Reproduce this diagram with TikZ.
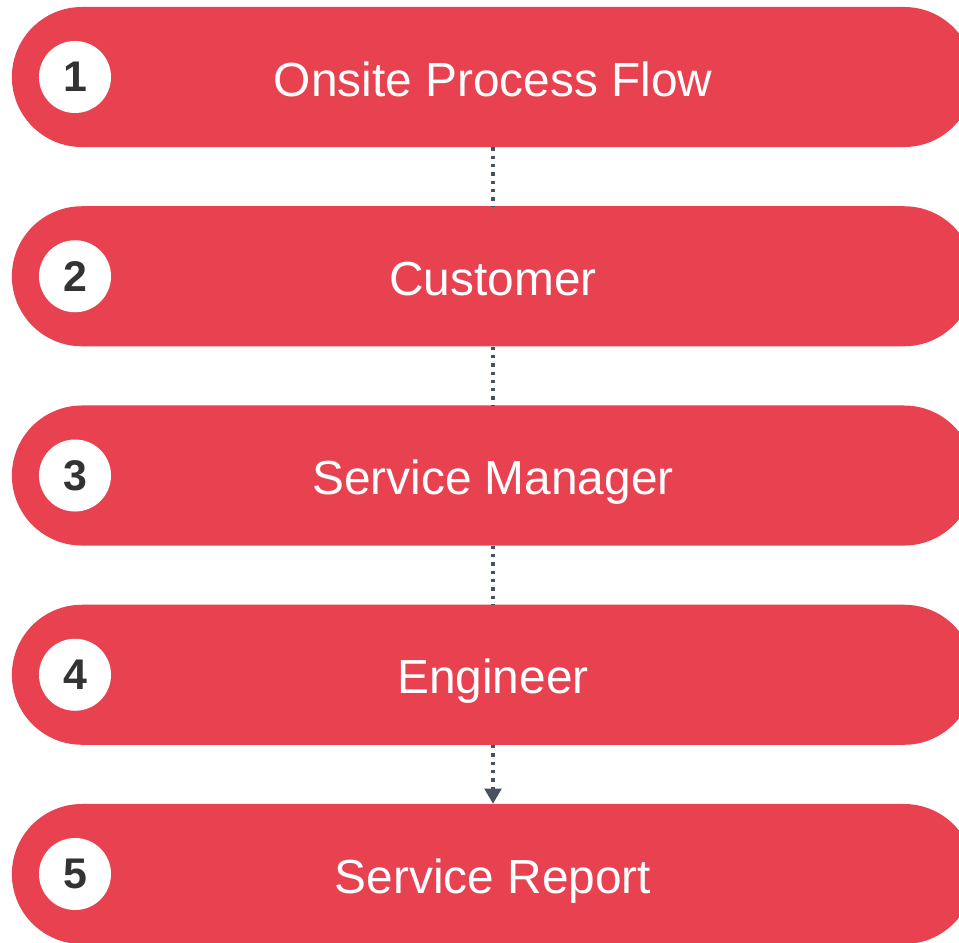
\documentclass[tikz,border=0pt]{standalone}
\usepackage{fontspec}
\setmainfont{Liberation Sans}
\usepackage{xcolor}
\usepackage{tikz}
\usetikzlibrary{arrows.meta,positioning,calc}
\definecolor{pillred}{HTML}{E84250}
\definecolor{linegray}{HTML}{48525E}
\definecolor{numgray}{HTML}{333333}
\tikzstyle{stage} = [rectangle, fill=pillred, rounded corners=1.75cm, minimum width=24.05cm, minimum height=3.5cm, text height=1.15cm, text depth=0.2cm, text=white, font=\fontsize{34}{40}\selectfont]

\begin{document}
\begin{tikzpicture}[x=0.025cm, y=-0.025cm]
    \tikzstyle{badge} = [circle, fill=white, minimum size=1.8cm, inner sep=0pt, text=numgray, font=\fontsize{30.5}{36}\selectfont\bfseries]
    \tikzstyle{flow} = [draw=linegray, line width=0.083cm, dash pattern=on 0.083cm off 0.125cm]
    \clip (0,0) rectangle (959,942);
    \node[stage] (s1) at (493,77) {Onsite Process Flow};
    \node[stage] (s2) at (493,276.25) {Customer};
    \node[stage] (s3) at (493,475.5) {Service Manager};
    \node[stage] (s4) at (493,674.75) {Engineer};
    \node[stage] (s5) at (493,874) {Service Report};
    \node[badge] (n1) at (75,77) {1};
    \node[badge] (n2) at (75,276.25) {2};
    \node[badge] (n3) at (75,475.5) {3};
    \node[badge] (n4) at (75,674.75) {4};
    \node[badge] (n5) at (75,874) {5};
    \draw[flow] (s1.south) -- (s2.north);
    \draw[flow] (s2.south) -- (s3.north);
    \draw[flow] (s3.south) -- (s4.north);
    \draw[flow, -{Triangle[width=0.42cm, length=0.38cm, fill=linegray]}] (s4.south) -- (s5.north);
\end{tikzpicture}
\end{document}
